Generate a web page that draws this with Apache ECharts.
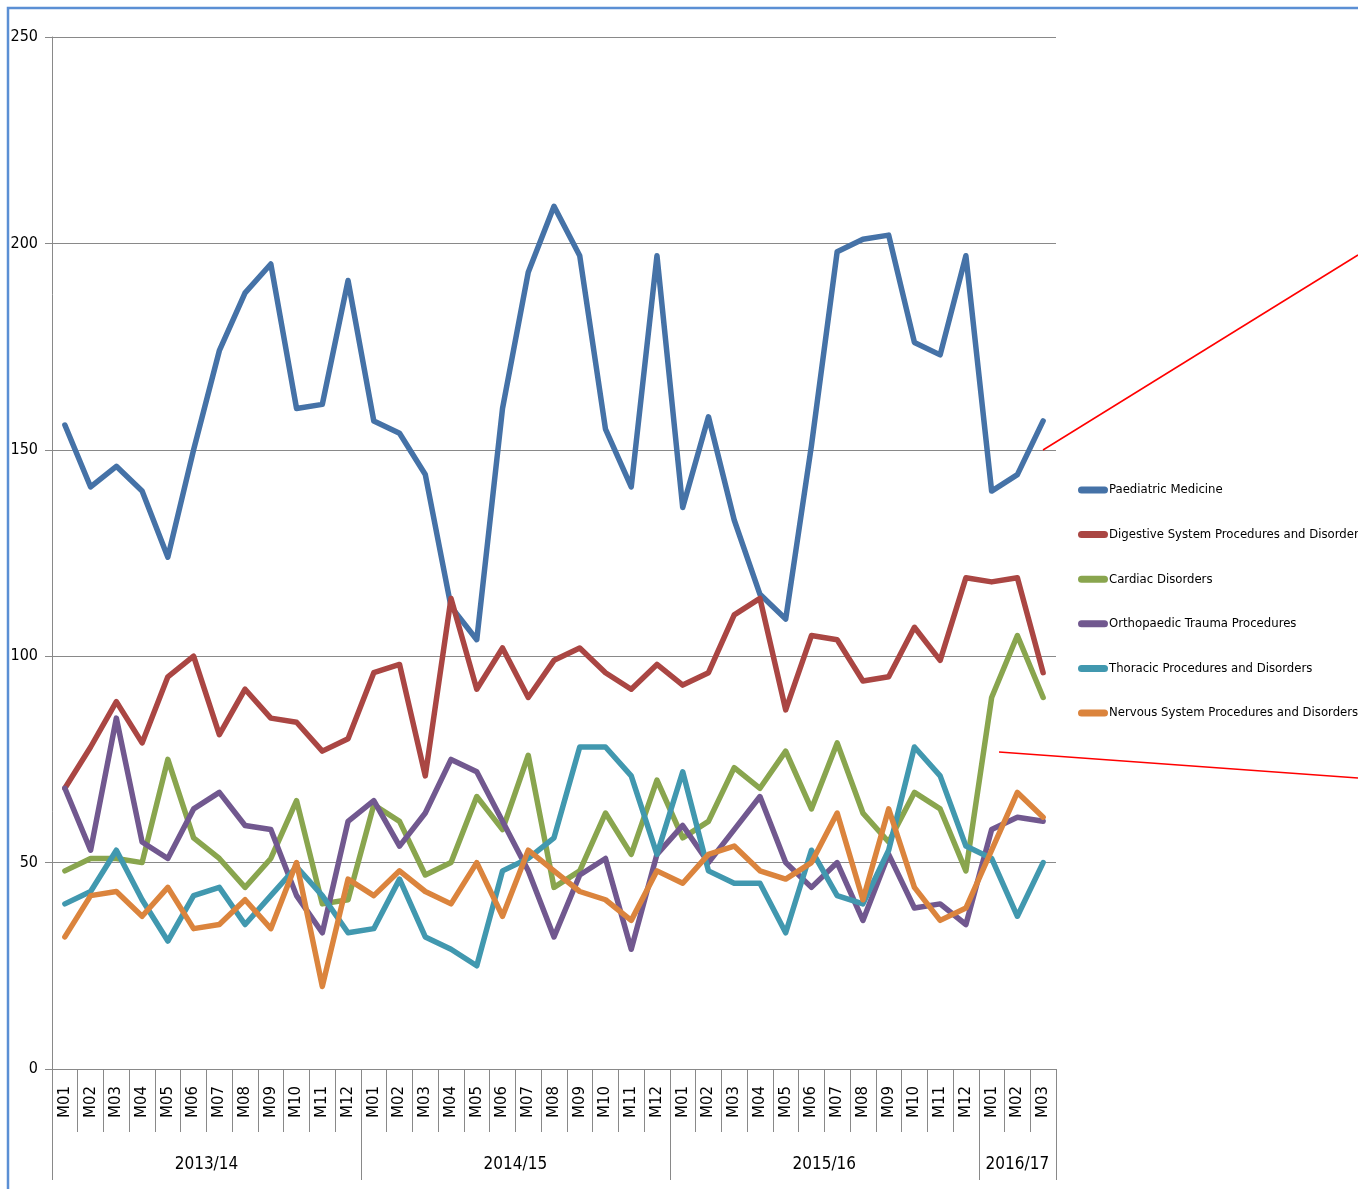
<!DOCTYPE html>
<html>
<head>
<meta charset="utf-8">
<title>Admissions by specialty</title>
<script src="https://cdn.jsdelivr.net/npm/echarts@6/dist/echarts.min.js"></script>
<style>
  html, body { margin: 0; padding: 0; background: #ffffff; }
  #chart { width: 1358px; height: 1189px; }
</style>
</head>
<body>
<div id="chart"></div>
<script>
// Financial years and the number of months reported in each
var years = ['2013/14', '2014/15', '2015/16', '2016/17'];
var monthsPerYear = [12, 12, 12, 3];
var monthNames = ['M01', 'M02', 'M03', 'M04', 'M05', 'M06', 'M07', 'M08', 'M09', 'M10', 'M11', 'M12'];

// Monthly counts per specialty
var paediatricMedicine = [156, 141, 146, 140, 124, 150, 174, 188, 195, 160, 161, 191,
  157, 154, 144, 112, 104, 160, 193, 209, 197, 155, 141, 197,
  136, 158, 133, 115, 109, 151, 198, 201, 202, 176, 173, 197,
  140, 144, 157];
var digestiveSystem = [68, 78, 89, 79, 95, 100, 81, 92, 85, 84, 77, 80,
  96, 98, 71, 114, 92, 102, 90, 99, 102, 96, 92, 98,
  93, 96, 110, 114, 87, 105, 104, 94, 95, 107, 99, 119,
  118, 119, 96];
var cardiacDisorders = [48, 51, 51, 50, 75, 56, 51, 44, 51, 65, 40, 41,
  64, 60, 47, 50, 66, 58, 76, 44, 48, 62, 52, 70,
  56, 60, 73, 68, 77, 63, 79, 62, 55, 67, 63, 48,
  90, 105, 90];
var orthopaedicTrauma = [68, 53, 85, 55, 51, 63, 67, 59, 58, 42, 33, 60,
  65, 54, 62, 75, 72, 60, 48, 32, 47, 51, 29, 52,
  59, 50, 58, 66, 50, 44, 50, 36, 52, 39, 40, 35,
  58, 61, 60];
var thoracicProcedures = [40, 43, 53, 41, 31, 42, 44, 35, 42, 49, 42, 33,
  34, 46, 32, 29, 25, 48, 51, 56, 78, 78, 71, 52,
  72, 48, 45, 45, 33, 53, 42, 40, 53, 78, 71, 54,
  51, 37, 50];
var nervousSystem = [32, 42, 43, 37, 44, 34, 35, 41, 34, 50, 20, 46,
  42, 48, 43, 40, 50, 37, 53, 48, 43, 41, 36, 48,
  45, 52, 54, 48, 46, 50, 62, 41, 63, 44, 36, 39,
  53, 67, 61];

var seriesNames = [
  'Paediatric Medicine',
  'Digestive System Procedures and Disorders',
  'Cardiac Disorders',
  'Orthopaedic Trauma Procedures',
  'Thoracic Procedures and Disorders',
  'Nervous System Procedures and Disorders'
];
var seriesValues = [paediatricMedicine, digestiveSystem, cardiacDisorders,
  orthopaedicTrauma, thoracicProcedures, nervousSystem];
var seriesColors = ['#4572A7', '#AA4643', '#89A54E', '#71588F', '#4198AF', '#DB843D'];

var yTicks = { min: 0, max: 250, interval: 50 };

// Month category labels, one per reported month
var monthLabels = [];
monthsPerYear.forEach(function (n) {
  for (var i = 0; i < n; i++) monthLabels.push(monthNames[i]);
});

// Year band axis: two slots per month, so that boundaries and year centres
// both fall on axis points
var yearSlots = [];
var yearBoundaries = {};
var yearCentres = {};
(function () {
  var start = 0;
  monthsPerYear.forEach(function (n, k) {
    yearBoundaries[start * 2] = true;
    yearCentres[start * 2 + n] = years[k];
    start += n;
  });
  yearBoundaries[start * 2] = true;
  for (var s = 0; s <= start * 2; s++) yearSlots.push(yearCentres[s] || '');
})();

var narrowFont = "'Liberation Sans Narrow', 'DejaVu Sans Condensed', sans-serif";
var gridGrey = '#898989';

var chart = echarts.init(document.getElementById('chart'), null, { renderer: 'canvas' });

chart.setOption({
  animation: false,
  backgroundColor: '#ffffff',
  grid: { left: 52, right: 302, top: 37, bottom: 120, containLabel: false },
  legend: {
    orient: 'vertical',
    left: 1073,
    top: 476,
    itemWidth: 30,
    itemHeight: 7,
    itemGap: 26.6,
    icon: 'path://M3.5,0 L26.5,0 A3.5,3.5 0 0 1 26.5,7 L3.5,7 A3.5,3.5 0 0 1 3.5,0 Z',
    textStyle: { fontFamily: narrowFont, fontSize: 13, lineHeight: 18, color: '#000000', padding: [0, 0, 0, -4] },
    data: seriesNames
  },
  xAxis: [
    {
      type: 'category',
      data: monthLabels,
      boundaryGap: true,
      axisLine: { show: true, lineStyle: { color: gridGrey, width: 1 } },
      axisTick: { show: true, interval: 0, length: 63, lineStyle: { color: gridGrey } },
      axisLabel: {
        interval: 0,
        rotate: 90,
        margin: 17,
        fontFamily: "'DejaVu Sans', sans-serif",
        fontSize: 15,
        color: '#000000'
      },
      splitLine: { show: false }
    },
    {
      type: 'category',
      data: yearSlots,
      boundaryGap: false,
      position: 'bottom',
      axisLine: { show: false },
      axisTick: {
        show: true,
        length: 111,
        interval: function (index) { return !!yearBoundaries[index]; },
        lineStyle: { color: gridGrey }
      },
      axisLabel: {
        interval: function (index) { return !!yearCentres[index]; },
        margin: 87,
        fontFamily: narrowFont,
        fontSize: 17,
        color: '#000000'
      },
      splitLine: { show: false }
    }
  ],
  yAxis: {
    type: 'value',
    min: yTicks.min,
    max: yTicks.max,
    interval: yTicks.interval,
    axisLine: { show: true, lineStyle: { color: gridGrey, width: 1 } },
    axisTick: { show: true, length: 7, lineStyle: { color: gridGrey } },
    axisLabel: { margin: 14, fontFamily: narrowFont, fontSize: 16, color: '#000000' },
    splitLine: { show: true, lineStyle: { color: gridGrey, width: 1 } }
  },
  series: seriesNames.map(function (name, k) {
    return {
      name: name,
      type: 'line',
      xAxisIndex: 0,
      data: seriesValues[k],
      showSymbol: false,
      symbol: 'none',
      color: seriesColors[k],
      lineStyle: { width: 5.5, color: seriesColors[k], join: 'round', cap: 'round' },
      emphasis: { disabled: true }
    };
  }),
  graphic: [
    {
      type: 'rect',
      shape: { x: 8, y: 8, width: 1400, height: 1260 },
      style: { fill: 'none', stroke: '#5b8fd4', lineWidth: 2.5 },
      silent: true,
      z: 100
    },
    {
      type: 'line',
      shape: { x1: 1043, y1: 450, x2: 1358, y2: 255 },
      style: { stroke: '#ff0000', lineWidth: 1.5 },
      silent: true,
      z: 100
    },
    {
      type: 'line',
      shape: { x1: 999, y1: 752, x2: 1358, y2: 778 },
      style: { stroke: '#ff0000', lineWidth: 1.5 },
      silent: true,
      z: 100
    }
  ]
});
</script>
</body>
</html>
